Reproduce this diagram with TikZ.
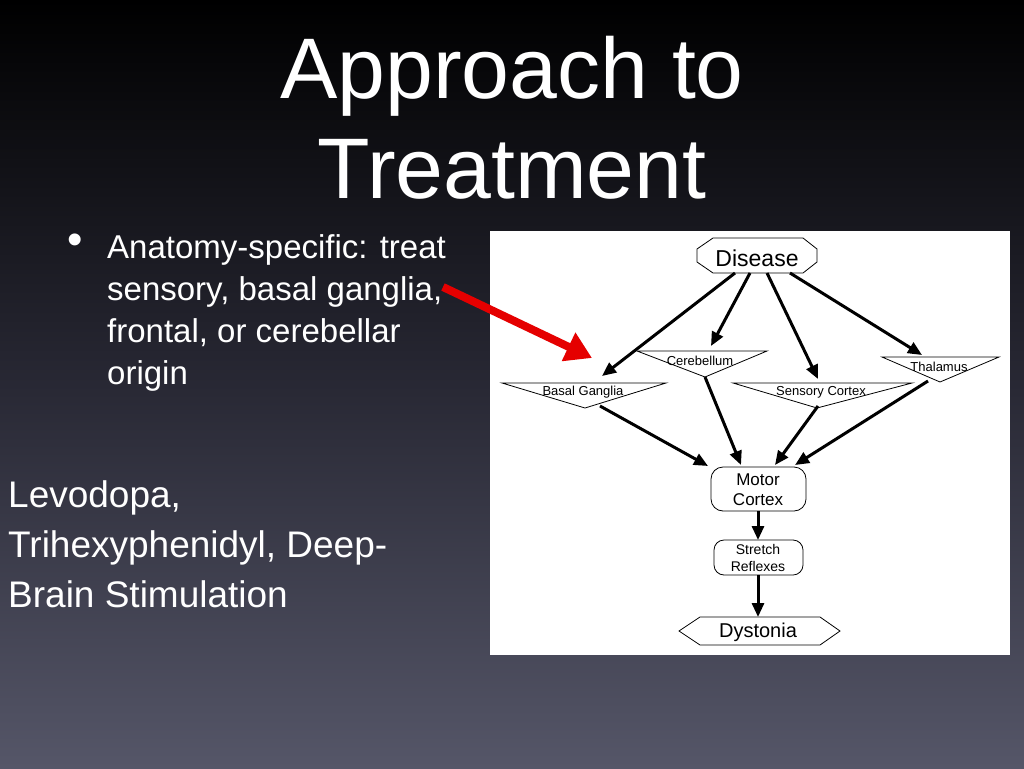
\documentclass[tikz,border=0pt]{standalone}
\usepackage{fontspec}
\setmainfont{Liberation Sans}
\usetikzlibrary{arrows.meta}
\definecolor{bgtop}{RGB}{0,0,0}
\definecolor{bgmid}{RGB}{40,40,52}
\definecolor{bgbot}{RGB}{85,86,104}
\begin{document}
\begin{tikzpicture}[x=1pt,y=-1pt,
  shp/.style={draw=black,fill=white,line width=0.8pt},
  lab/.style={font=\fontsize{13}{14}\selectfont,inner sep=0pt},
  conn/.style={line width=3pt,-{Triangle[length=14pt,width=12pt]}},
  slide/.style={text=white,anchor=base west,inner sep=0pt}]
\shade[top color=bgtop,bottom color=bgbot,middle color=bgmid] (0,0) rectangle (1024,768);
\useasboundingbox (0,0) rectangle (1024,768);
% title
\node[text=white,font=\fontsize{86}{100}\selectfont,align=center,inner sep=0pt] (title) at (512,118) {Approach to\\Treatment};
% bullet
\node[text=white,font=\fontsize{44}{44}\selectfont,inner sep=0pt] (bul) at (75,244) {•};
\node[slide,font=\fontsize{33}{42}\selectfont,align=left,anchor=north west] (btext) at (107,234) {Anatomy-specific: treat\\sensory, basal ganglia,\\frontal, or cerebellar\\origin};
\node[slide,font=\fontsize{37}{50}\selectfont,align=left,anchor=north west] (levo) at (8,480) {Levodopa,\\Trihexyphenidyl, Deep-\\Brain Stimulation};
% diagram panel
\fill[white] (490,231) rectangle (1010,655);
% shapes
\draw[shp] (713,238)--(803,238)--(817,249)--(817,262)--(803,273)--(713,273)--(697,262)--(697,249)--cycle;
\node[font=\fontsize{23}{24}\selectfont,inner sep=0pt] (dis) at (757,258) {Disease};
\draw[shp] (637,351)--(767,351)--(705,377)--cycle;
\node[lab] (cer) at (700,361) {Cerebellum};
\draw[shp] (502,383)--(666,383)--(585,408)--cycle;
\node[lab] (bg) at (583,392) {Basal Ganglia};
\draw[shp] (733,383)--(912,383)--(817,408)--cycle;
\node[lab] (sc) at (821,392) {Sensory Cortex};
\draw[shp] (882,357)--(999,357)--(940,382)--cycle;
\node[lab] (th) at (939,367) {Thalamus};
\draw[shp,rounded corners=12pt] (711,467) rectangle (806,511);
\node[font=\fontsize{17}{20}\selectfont,align=center,inner sep=0pt] (mc) at (758,490) {Motor\\Cortex};
\draw[shp,rounded corners=10pt] (714,540) rectangle (803,575);
\node[font=\fontsize{14}{17}\selectfont,align=center,inner sep=0pt] (sr) at (758,558) {Stretch\\Reflexes};
\draw[shp] (700,617)--(820,617)--(840,631)--(820,645)--(700,645)--(679,631)--cycle;
\node[font=\fontsize{20}{22}\selectfont,inner sep=0pt] (dy) at (758,632) {Dystonia};
% connector coordinates
\coordinate (d1) at (735,273); \coordinate (d2) at (750,273);
\coordinate (d3) at (767,273); \coordinate (d4) at (790,273);
\coordinate (bgt) at (602,376); \coordinate (cert) at (711,346);
\coordinate (sct) at (818,379); \coordinate (tht) at (922,355);
\coordinate (bgb) at (600,406); \coordinate (cerb) at (705,377);
\coordinate (scb) at (818,406); \coordinate (thb) at (928,381);
\coordinate (mc1) at (708,466); \coordinate (mc2) at (741,465);
\coordinate (mc3) at (775,465); \coordinate (mc4) at (795,465);
\coordinate (mcb) at (758,511); \coordinate (srt) at (758,540);
\coordinate (srb) at (758,575); \coordinate (dyt) at (758,617);
\draw[conn] (d1)--(bgt);
\draw[conn] (d2)--(cert);
\draw[conn] (d3)--(sct);
\draw[conn] (d4)--(tht);
\draw[conn] (bgb)--(mc1);
\draw[conn] (cerb)--(mc2);
\draw[conn] (scb)--(mc3);
\draw[conn] (thb)--(mc4);
\draw[conn] (mcb)--(srt);
\draw[conn] (srb)--(dyt);
% red arrow
\coordinate (ra) at (443,287); \coordinate (rb) at (592,358);
\draw[red!90!black,line width=8pt,-{Triangle[length=26pt,width=30pt]}] (ra)--(rb);
\end{tikzpicture}
\end{document}
